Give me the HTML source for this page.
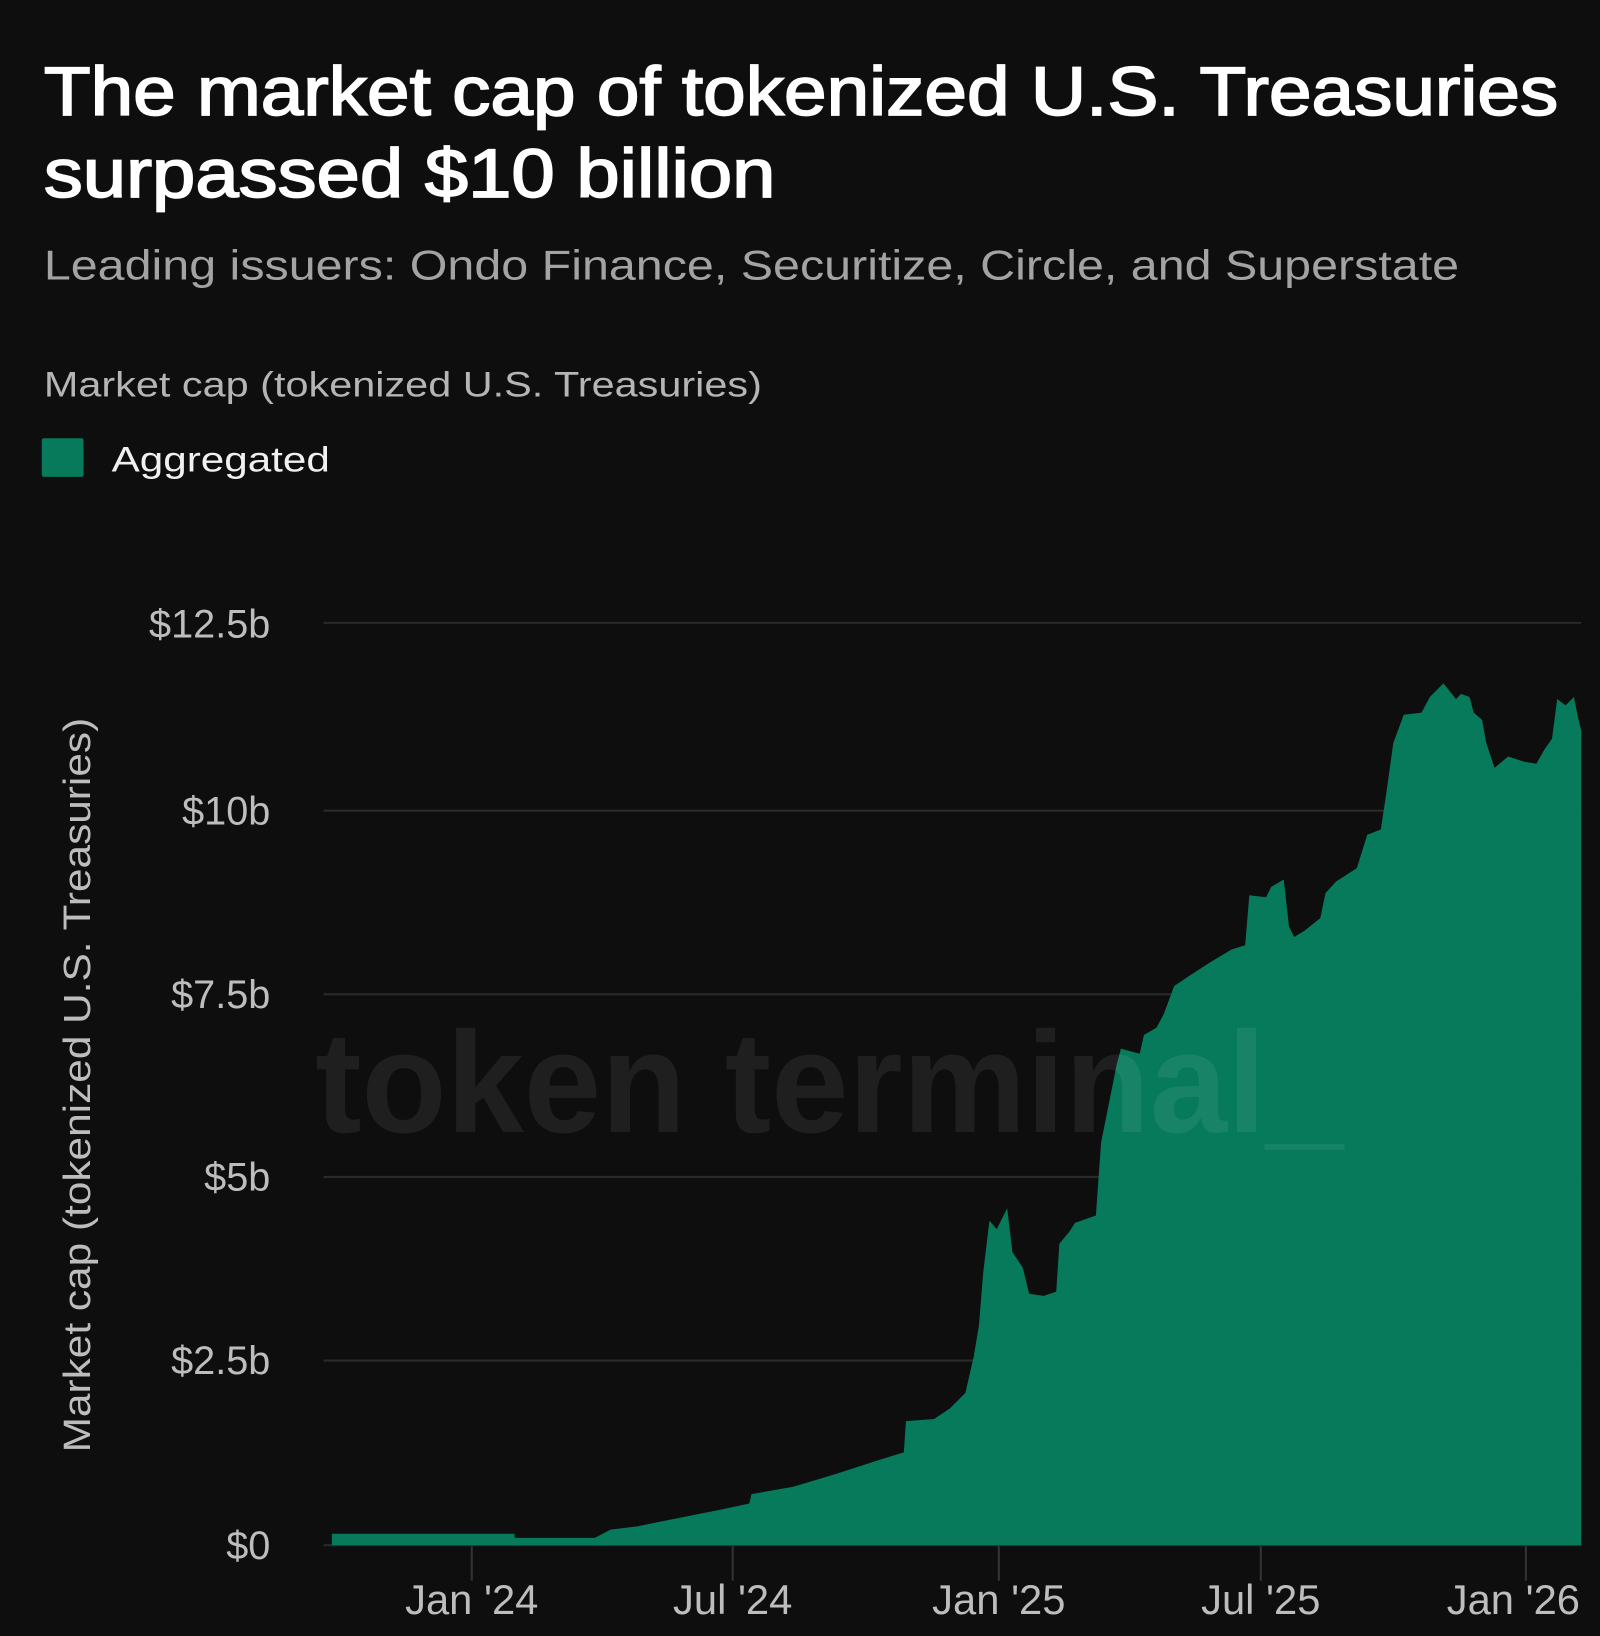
<!DOCTYPE html>
<html><head><meta charset="utf-8"><style>
html,body{margin:0;padding:0;background:#0e0e0e;}
svg{display:block}
text{font-family:"Liberation Sans","DejaVu Sans",sans-serif}
</style></head><body>
<svg width="1600" height="1636" viewBox="0 0 1533 1568" preserveAspectRatio="none" xmlns="http://www.w3.org/2000/svg">
<rect width="1533" height="1568" fill="#0e0e0e"/>
<text x="42" y="110" font-size="66" fill="#ffffff" stroke="#ffffff" stroke-width="1.6" textLength="1451" lengthAdjust="spacingAndGlyphs">The market cap of tokenized U.S. Treasuries</text>
<text x="42" y="189" font-size="66" fill="#ffffff" stroke="#ffffff" stroke-width="1.6" textLength="701" lengthAdjust="spacingAndGlyphs">surpassed $10 billion</text>
<text x="42" y="268" font-size="40" fill="#a3a3a3" textLength="1356" lengthAdjust="spacingAndGlyphs">Leading issuers: Ondo Finance, Securitize, Circle, and Superstate</text>
<text x="42" y="380" font-size="34" fill="#b5b5b5" textLength="688" lengthAdjust="spacingAndGlyphs">Market cap (tokenized U.S. Treasuries)</text>
<rect x="40" y="420" width="40" height="37" rx="2" fill="#077a5b"/>
<text x="107" y="452" font-size="34" fill="#f0f0f0" textLength="209" lengthAdjust="spacingAndGlyphs">Aggregated</text>
<g stroke="#2a2a2a" stroke-width="2">
<line x1="310" y1="597" x2="1515" y2="597"/>
<line x1="310" y1="777" x2="1515" y2="777"/>
<line x1="310" y1="953" x2="1515" y2="953"/>
<line x1="310" y1="1128" x2="1515" y2="1128"/>
<line x1="310" y1="1304" x2="1515" y2="1304"/>
<line x1="310" y1="1481" x2="1515" y2="1481"/>
</g>
<g stroke="#333" stroke-width="2">
<line x1="452" y1="1482" x2="452" y2="1515"/>
<line x1="702" y1="1482" x2="702" y2="1515"/>
<line x1="957" y1="1482" x2="957" y2="1515"/>
<line x1="1208" y1="1482" x2="1208" y2="1515"/>
<line x1="1462" y1="1482" x2="1462" y2="1515"/>
</g>
<path fill="#077a5b" d="M318 1481 L318 1470 L493 1470 L493 1474 L570 1474 L585 1466 L610 1463 L640 1457 L670 1451 L690 1447 L718 1441 L720 1432 L760 1425 L800 1413 L840 1400 L866 1392 L868 1362 L895 1360 L910 1350 L925 1335 L933 1300 L938 1270 L942 1220 L948 1170 L955 1178 L965 1158 L970 1200 L980 1215 L986 1240 L1000 1242 L1012 1238 L1015 1192 L1025 1180 L1030 1172 L1050 1165 L1055 1095 L1062 1060 L1070 1020 L1074 1005 L1092 1010 L1096 992 L1108 985 L1115 972 L1125 945 L1140 935 L1160 922 L1180 910 L1193 906 L1197 858 L1213 860 L1218 850 L1230 843 L1235 888 L1240 898 L1250 892 L1265 880 L1270 856 L1280 845 L1300 832 L1310 800 L1323 795 L1328 762 L1335 712 L1345 685 L1362 683 L1370 668 L1383 655 L1395 670 L1400 665 L1408 668 L1412 683 L1420 690 L1424 712 L1432 736 L1445 725 L1460 730 L1472 732 L1480 718 L1487 708 L1492 670 L1500 676 L1508 668 L1512 688 L1515 700 L1515 1481 Z"/>
<text x="302" y="1085" font-size="138" font-weight="bold" fill="#ffffff" fill-opacity="0.075" textLength="985" lengthAdjust="spacingAndGlyphs">token terminal_</text>
<g font-size="38" fill="#bdbdbd" text-anchor="end">
<text x="259" y="611">$12.5b</text>
<text x="259" y="790">$10b</text>
<text x="259" y="966">$7.5b</text>
<text x="259" y="1141">$5b</text>
<text x="259" y="1317">$2.5b</text>
<text x="259" y="1494">$0</text>
</g>
<g font-size="40" fill="#bdbdbd" text-anchor="middle">
<text x="452" y="1547">Jan '24</text>
<text x="702" y="1547">Jul '24</text>
<text x="957" y="1547">Jan '25</text>
<text x="1208" y="1547">Jul '25</text>
<text x="1450" y="1547">Jan '26</text>
</g>
<text transform="translate(86 1040) rotate(-90)" font-size="36" fill="#bdbdbd" text-anchor="middle" textLength="704" lengthAdjust="spacingAndGlyphs">Market cap (tokenized U.S. Treasuries)</text>
</svg>
</body></html>
